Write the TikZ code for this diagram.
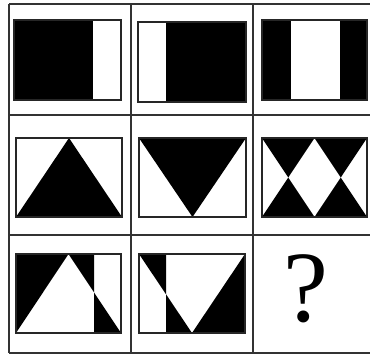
\documentclass[tikz,border=0pt]{standalone}
\usepackage{fontspec}
\setmainfont{Liberation Serif}
\begin{document}
\begin{tikzpicture}[x=1pt,y=-1pt,
  gridline/.style={line width=1.6pt,draw=black!80},
  frame/.style={line width=1.6pt,draw=black!85},
  ink/.style={fill=black}]
\useasboundingbox (0,0) rectangle (370,354);
\begin{scope}
\clip (0,0) rectangle (370,354);
% grid
\foreach \y in {4,115,235,353} \draw[gridline] (9,\y) -- (380,\y);
\foreach \x in {9,131,253} \draw[gridline] (\x,4) -- (\x,353);
% row 1
\fill[ink] (14,20) rectangle (93,100);
\draw[frame] (14,20) rectangle (121,100);
\fill[ink] (166,22) rectangle (246,102);
\draw[frame] (138,22) rectangle (246,102);
\fill[ink] (262,20) rectangle (291,100);
\fill[ink] (340,20) rectangle (367,100);
\draw[frame] (262,20) rectangle (367,100);
% row 2
\fill[ink] (16,217) -- (69,138) -- (122,217) -- cycle;
\draw[frame] (16,138) rectangle (122,217);
\fill[ink] (139,138) -- (246,138) -- (192.5,217) -- cycle;
\draw[frame] (139,138) rectangle (246,217);
\fill[ink] (262,138) -- (314.5,138) -- (288.25,177.5) -- cycle;
\fill[ink] (314.5,138) -- (367,138) -- (340.75,177.5) -- cycle;
\fill[ink] (262,217) -- (314.5,217) -- (288.25,177.5) -- cycle;
\fill[ink] (314.5,217) -- (367,217) -- (340.75,177.5) -- cycle;
\draw[frame] (262,138) rectangle (367,217);
% row 3
\fill[ink,even odd rule] (16,254) rectangle (94,333)
  (16,333) -- (68.5,254) -- (121,333) -- cycle;
\draw[frame] (16,254) rectangle (121,333);
\fill[ink,even odd rule] (166,254) rectangle (245,333)
  (139,254) -- (245,254) -- (192,333) -- cycle;
\draw[frame] (139,254) rectangle (245,333);
\node[inner sep=0pt,font=\fontsize{101}{101}\selectfont] (q) at (306,288.5) {?};
\end{scope}
\end{tikzpicture}
\end{document}
